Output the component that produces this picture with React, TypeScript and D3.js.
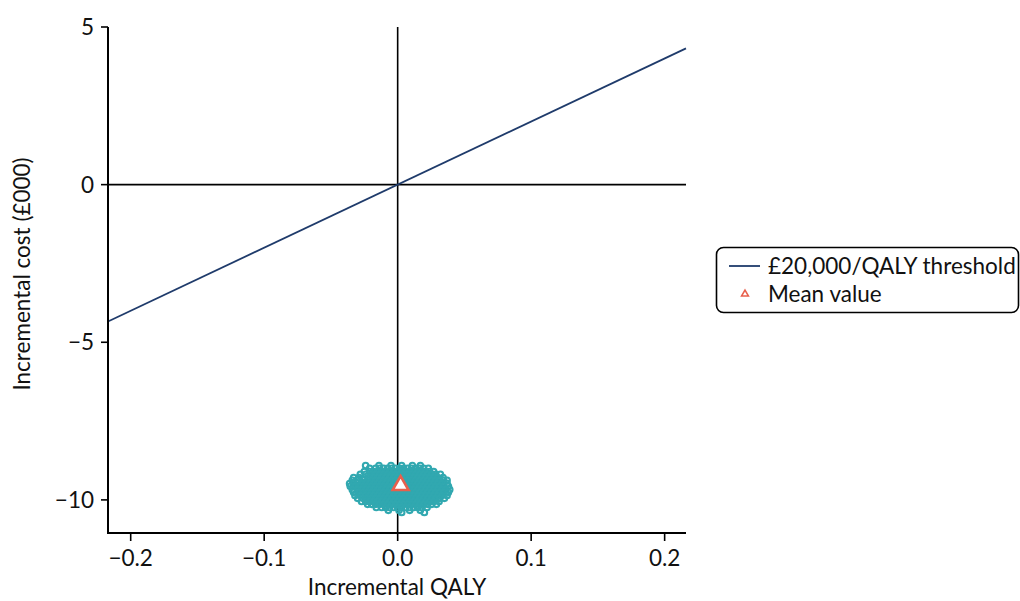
import React from "react";
import * as d3 from "d3";

// x: incremental QALY, y: incremental cost (£000)
const xTicks = [-0.2, -0.1, 0, 0.1, 0.2];
const yTicks = [-10, -5, 0, 5];
const xDomain = [-0.217, 0.216];
const yDomain = [-11.05, 5];
const thresholdPerQALY = 20; // £20,000 per QALY in £000
const meanValue = { qaly: 0.0022, cost: -9.54 };

// Bootstrap cloud: rows of [incremental cost, list of incremental QALY (×10⁻³)]
const cloudRows: [number, number[]][] = [
  [-8.91, [-24, -14, -5, 3, 11, 17]],
  [-9.0, [-21, -16.5, -13.5, -10.5, -7.5, -4.5, -1.5, 1.5, 4.5, 7.5, 10.5, 13.5, 16.5, 19.5, 23]],
  [-9.1, [-25, -21, -18, -15, -12, -9, -6, -3, 0, 3, 6, 9, 12, 15, 18, 21, 24, 27]],
  [-9.19, [-28, -24, -19.5, -16.5, -13.5, -10.5, -7.5, -4.5, -1.5, 1.5, 4.5, 7.5, 10.5, 13.5, 16.5, 19.5, 22.5, 25.5, 28.5, 32]],
  [-9.29, [-33, -29, -25, -21, -18, -15, -12, -9, -6, -3, 0, 3, 6, 9, 12, 15, 18, 21, 24, 27, 30, 34]],
  [-9.38, [-34, -30.5, -25.5, -22.5, -19.5, -16.5, -13.5, -10.5, -7.5, -4.5, -1.5, 1.5, 4.5, 7.5, 10.5, 13.5, 16.5, 19.5, 22.5, 25.5, 28.5, 31.5, 34.5, 37]],
  [-9.48, [-36, -33, -30, -27, -24, -21, -18, -15, -12, -9, -6, -3, 0, 3, 6, 9, 12, 15, 18, 21, 24, 27, 30, 33, 37]],
  [-9.57, [-35.5, -31.5, -28.5, -25.5, -22.5, -19.5, -16.5, -13.5, -10.5, -7.5, -4.5, -1.5, 1.5, 4.5, 7.5, 10.5, 13.5, 16.5, 19.5, 22.5, 25.5, 28.5, 31.5, 34.5, 38]],
  [-9.67, [-34, -30, -27, -24, -21, -18, -15, -12, -9, -6, -3, 0, 3, 6, 9, 12, 15, 18, 21, 24, 27, 30, 33, 36, 39]],
  [-9.76, [-33, -28.5, -25.5, -22.5, -19.5, -16.5, -13.5, -10.5, -7.5, -4.5, -1.5, 1.5, 4.5, 7.5, 10.5, 13.5, 16.5, 19.5, 22.5, 25.5, 28.5, 31.5, 34.5, 38]],
  [-9.86, [-32, -28, -24, -21, -18, -15, -12, -9, -6, -3, 0, 3, 6, 9, 12, 15, 18, 21, 24, 27, 30, 33, 37]],
  [-9.95, [-30, -26, -22.5, -19.5, -16.5, -13.5, -10.5, -7.5, -4.5, -1.5, 1.5, 4.5, 7.5, 10.5, 13.5, 16.5, 19.5, 22.5, 25.5, 28.5, 31.5, 35]],
  [-10.05, [-27, -24, -21, -18, -15, -12, -9, -6, -3, 0, 3, 6, 9, 12, 15, 18, 21, 24, 27, 31]],
  [-10.14, [-22.5, -19.5, -16.5, -13.5, -10.5, -7.5, -4.5, -1.5, 1.5, 4.5, 7.5, 10.5, 13.5, 16.5, 19.5, 22.5, 25.5, 29]],
  [-10.24, [-16, -12, -9, -6, -3, 0, 3, 6, 9, 12, 15, 18, 22]],
  [-10.33, [-7, 1, 9, 17]],
  [-10.4, [3, 20]],
];

const legendItems = ["£20,000/QALY threshold", "Mean value"];

const TEAL = "#31a8b0";
const NAVY = "#1f3b6b";
const RED = "#e8604c";
const FONT = "Lato, 'Open Sans', sans-serif";
const FS = 22.5;

export default function App() {
  const x = d3.scaleLinear().domain(xDomain).range([108, 686]);
  const y = d3.scaleLinear().domain(yDomain).range([533, 27]);
  const fmtX = (v: number) => (v < 0 ? "\u2212" : "") + Math.abs(v).toFixed(1);
  const fmtY = (v: number) => (v < 0 ? "\u2212" : "") + Math.abs(v);

  const points: { q: number; c: number }[] = [];
  cloudRows.forEach(([c, qs]) => qs.forEach((q) => points.push({ q: q / 1000, c })));

  const line = d3
    .line<number>()
    .x((q) => x(q))
    .y((q) => y(q * thresholdPerQALY));

  const bigTri = d3.symbol(d3.symbolTriangle, 110)()!;
  const smallTri = d3.symbol(d3.symbolTriangle, 20)()!;

  return (
    <svg
      width={1020}
      height={601}
      style={{ position: "absolute", left: 0, top: 0, background: "#fff" }}
      fontFamily={FONT}
    >
      {/* reference lines */}
      <line x1={x(0)} x2={x(0)} y1={y(yDomain[1])} y2={y(yDomain[0])} stroke="#000" strokeWidth={1.6} />
      <line x1={x(xDomain[0])} x2={x(xDomain[1])} y1={y(0)} y2={y(0)} stroke="#000" strokeWidth={1.6} />

      {/* threshold */}
      <path d={line(xDomain) || ""} fill="none" stroke={NAVY} strokeWidth={1.8} />

      {/* cloud */}
      <g fill="none" stroke={TEAL} strokeWidth={2.1}>
        {points.map((p, i) => (
          <circle key={i} cx={x(p.q)} cy={y(p.c)} r={2.8} />
        ))}
      </g>

      {/* mean */}
      <path
        d={bigTri}
        transform={`translate(${x(meanValue.qaly)},${y(meanValue.cost)})`}
        fill="#fff"
        stroke={RED}
        strokeWidth={2.6}
      />

      {/* axes */}
      <line x1={108} x2={108} y1={y(yDomain[1])} y2={y(yDomain[0]) + 1} stroke="#000" strokeWidth={2} />
      <line x1={107} x2={x(xDomain[1])} y1={533} y2={533} stroke="#000" strokeWidth={2} />
      {yTicks.map((t) => (
        <g key={t}>
          <line x1={101} x2={108} y1={y(t)} y2={y(t)} stroke="#000" strokeWidth={1.6} />
          <text x={94} y={y(t)} dy="0.35em" textAnchor="end" fontSize={FS} fill="#111">
            {fmtY(t)}
          </text>
        </g>
      ))}
      {xTicks.map((t) => (
        <g key={t}>
          <line x1={x(t)} x2={x(t)} y1={533} y2={541} stroke="#000" strokeWidth={1.6} />
          <text x={x(t)} y={566} textAnchor="middle" fontSize={FS} fill="#111">
            {fmtX(t)}
          </text>
        </g>
      ))}
      <text x={397} y={595} textAnchor="middle" fontSize={FS} fill="#111">
        Incremental QALY
      </text>
      <text
        transform="translate(30,274) rotate(-90)"
        textAnchor="middle"
        fontSize={FS}
        fill="#111"
      >
        Incremental cost (£000)
      </text>

      {/* legend */}
      <rect x={716.5} y={247.5} width={302} height={65} rx={7} fill="#fff" stroke="#000" strokeWidth={1.6} />
      <line x1={729} x2={760} y1={266} y2={266} stroke={NAVY} strokeWidth={1.8} />
      <text x={768} y={266} dy="0.35em" fontSize={FS} fill="#111">
        {legendItems[0]}
      </text>
      <path d={smallTri} transform="translate(745,294)" fill="#fff" stroke={RED} strokeWidth={1.6} />
      <text x={768} y={294} dy="0.35em" fontSize={FS} fill="#111">
        {legendItems[1]}
      </text>
    </svg>
  );
}
